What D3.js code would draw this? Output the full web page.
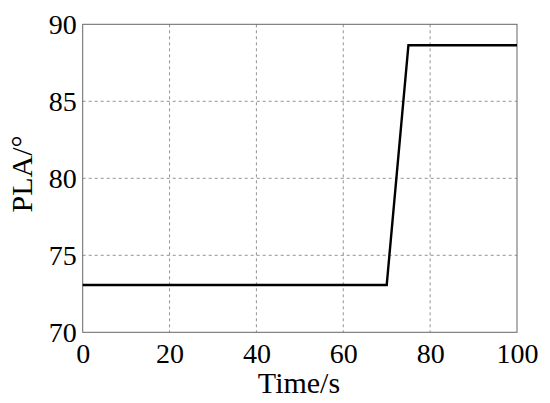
<!DOCTYPE html>
<html><head><meta charset="utf-8">
<script src="https://cdn.jsdelivr.net/npm/d3@7"></script>
<style>body{margin:0;background:#fff}svg{display:block}text{font-family:"Liberation Serif","Times New Roman",serif;fill:#000}</style>
</head><body><svg id="c" width="550" height="403"></svg>
<script>
const timeS = [0, 70, 75, 100];
const plaDeg = [73.07, 73.07, 88.64, 88.64];
const xTicks = [0, 20, 40, 60, 80, 100];
const yTicks = [70, 75, 80, 85, 90];
const xLabel = "Time/s";
const yLabel = "PLA/°";

const svg = d3.select("#c");
const m = {l: 82.7, r: 517, t: 24.3, b: 332.3};
const x = d3.scaleLinear().domain([0, 100]).range([m.l, m.r]);
const y = d3.scaleLinear().domain([70, 90]).range([m.b, m.t]);

// grid
svg.append("g").selectAll("line").data(xTicks.slice(1, -1)).join("line")
  .attr("x1", d => x(d)).attr("x2", d => x(d)).attr("y1", m.t).attr("y2", m.b)
  .attr("stroke", "#777").attr("stroke-width", 0.8).attr("stroke-dasharray", "3,3");
svg.append("g").selectAll("line").data(yTicks.slice(1, -1)).join("line")
  .attr("y1", d => y(d)).attr("y2", d => y(d)).attr("x1", m.l).attr("x2", m.r)
  .attr("stroke", "#777").attr("stroke-width", 0.8).attr("stroke-dasharray", "3,3");

// box
svg.append("rect").attr("x", m.l).attr("y", m.t).attr("width", m.r - m.l).attr("height", m.b - m.t)
  .attr("fill", "none").attr("stroke", "#666").attr("stroke-width", 1);

// axes
const xAxis = svg.append("g").attr("transform", `translate(0,${m.b})`)
  .call(d3.axisBottom(x).tickValues(xTicks).tickSize(0).tickPadding(12).tickFormat(d3.format("d")));
xAxis.select(".domain").remove();
xAxis.selectAll("text").style("font-size", "28px").attr("dy", "0.71em").attr("y", 11);
const yAxis = svg.append("g").attr("transform", `translate(${m.l},0)`)
  .call(d3.axisLeft(y).tickValues(yTicks).tickSize(0).tickPadding(6).tickFormat(d3.format("d")));
yAxis.select(".domain").remove();
yAxis.selectAll("text").style("font-size", "28px").attr("dy", "0.32em");

// line
svg.append("path").datum(timeS.map((t, i) => [t, plaDeg[i]]))
  .attr("d", d3.line().x(d => x(d[0])).y(d => y(d[1])))
  .attr("fill", "none").attr("stroke", "#000").attr("stroke-width", 2.4);

// labels
svg.append("text").attr("x", 299).attr("y", 393).attr("text-anchor", "middle")
  .style("font-size", "30px").text(xLabel);
svg.append("text").attr("transform", `translate(32,174) rotate(-90)`)
  .attr("text-anchor", "middle").style("font-size", "30px").text(yLabel);
</script></body></html>
